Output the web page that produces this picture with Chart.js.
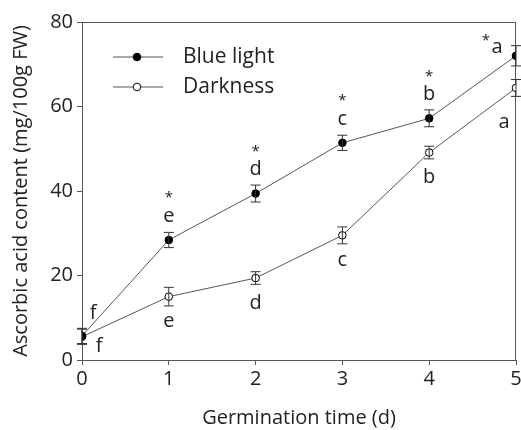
<!DOCTYPE html>
<html>
<head>
<meta charset="utf-8">
<script src="https://cdn.jsdelivr.net/npm/chart.js@4"></script>
<style>
  html, body { margin: 0; padding: 0; background: #fff; }
  #wrap { width: 521px; height: 430px; }
</style>
</head>
<body>
<div id="wrap"><canvas id="chart" width="521" height="430"></canvas></div>
<script>
// data
const days = [0, 1, 2, 3, 4, 5];
const blueLight = [5.7, 28.4, 39.4, 51.4, 57.2, 72.0];
const blueErr = [1.8, 1.8, 2.0, 1.8, 2.0, 2.4];
const darkness = [5.5, 15.0, 19.4, 29.5, 49.1, 64.4];
const darkErr = [1.8, 2.2, 1.5, 2.0, 1.5, 2.0];
const blueLetters = ['f', 'e', 'd', 'c', 'b', 'a'];
const darkLetters = ['f', 'e', 'd', 'c', 'b', 'a'];
const blueStars = ['', '*', '*', '*', '*', '*'];
const yTicks = [0, 20, 40, 60, 80];

const FONT = "'Open Sans', sans-serif";
const AXIS = '#555';

const errorBars = {
  id: 'errorBars',
  afterDatasetsDraw(chart) {
    const ctx = chart.ctx;
    const x = chart.scales.x, y = chart.scales.y;
    const errs = [blueErr, darkErr];
    ctx.save();
    ctx.strokeStyle = '#333';
    ctx.lineWidth = 1;
    chart.data.datasets.forEach((ds, i) => {
      ds.data.forEach((p, j) => {
        const px = x.getPixelForValue(p.x);
        const y1 = y.getPixelForValue(p.y + errs[i][j]);
        const y2 = y.getPixelForValue(p.y - errs[i][j]);
        ctx.beginPath();
        ctx.moveTo(px, y1); ctx.lineTo(px, y2);
        ctx.moveTo(px - 5, y1); ctx.lineTo(px + 5, y1);
        ctx.moveTo(px - 5, y2); ctx.lineTo(px + 5, y2);
        ctx.stroke();
      });
    });
    ctx.restore();
  }
};

const frameAndText = {
  id: 'frameAndText',
  beforeDatasetsDraw(chart) {
    const ctx = chart.ctx, a = chart.chartArea;
    ctx.save();
    ctx.strokeStyle = AXIS;
    ctx.lineWidth = 1;
    ctx.beginPath();
    ctx.moveTo(a.left, a.top + 0.5);
    ctx.lineTo(a.right - 0.5, a.top + 0.5);
    ctx.lineTo(a.right - 0.5, a.bottom);
    ctx.stroke();
    ctx.restore();
  },
  afterDraw(chart) {
    const ctx = chart.ctx;
    const x = chart.scales.x, y = chart.scales.y;
    ctx.save();
    ctx.fillStyle = '#222';
    ctx.textAlign = 'center';
    ctx.textBaseline = 'middle';
    days.forEach((d, j) => {
      const px = x.getPixelForValue(d);
      const pb = y.getPixelForValue(blueLight[j]);
      const pd = y.getPixelForValue(darkness[j]);
      ctx.font = '20px ' + FONT;
      if (j === 0) {
        ctx.fillText(blueLetters[j], px + 11, pb - 23);
        ctx.fillText(darkLetters[j], px + 17, pd + 10);
      } else if (j === days.length - 1) {
        ctx.fillText(blueLetters[j], px - 19, pb - 9);
        ctx.fillText(darkLetters[j], px - 12, pd + 34);
      } else {
        ctx.fillText(blueLetters[j], px, pb - 24);
        ctx.fillText(darkLetters[j], px, pd + 25);
      }
      if (blueStars[j]) {
        ctx.font = '15px ' + FONT;
        if (j === days.length - 1) ctx.fillText(blueStars[j], px - 30, pb - 15);
        else ctx.fillText(blueStars[j], px, pb - 42);
      }
    });

    // legend
    const items = chart.data.datasets;
    items.forEach((ds, i) => {
      const ly = 57 + i * 30;
      ctx.strokeStyle = AXIS;
      ctx.lineWidth = 1;
      ctx.beginPath();
      ctx.moveTo(113, ly); ctx.lineTo(163, ly);
      ctx.stroke();
      ctx.beginPath();
      ctx.arc(137, ly, 3.8, 0, Math.PI * 2);
      ctx.fillStyle = ds.pointBackgroundColor;
      ctx.fill();
      ctx.strokeStyle = '#000';
      ctx.stroke();
      ctx.fillStyle = '#222';
      ctx.textAlign = 'left';
      ctx.font = '21px ' + FONT;
      ctx.fillText(ds.label, 183, ly);
    });
    ctx.restore();
  }
};

new Chart(document.getElementById('chart'), {
  type: 'line',
  data: {
    datasets: [
      {
        label: 'Blue light',
        data: days.map((d, i) => ({ x: d, y: blueLight[i] })),
        borderColor: AXIS,
        borderWidth: 1,
        pointRadius: 3.8,
        pointBackgroundColor: '#000',
        pointBorderColor: '#000',
        pointBorderWidth: 1
      },
      {
        label: 'Darkness',
        data: days.map((d, i) => ({ x: d, y: darkness[i] })),
        borderColor: AXIS,
        borderWidth: 1,
        pointRadius: 3.8,
        pointBackgroundColor: '#fff',
        pointBorderColor: '#000',
        pointBorderWidth: 1
      }
    ]
  },
  options: {
    responsive: false,
    animation: false,
    layout: { padding: { top: 22, right: 3, left: 0, bottom: 0 } },
    plugins: { legend: { display: false }, tooltip: { enabled: false } },
    scales: {
      x: {
        type: 'linear',
        min: 0, max: 5,
        afterFit(s) { s.height = 70; s.paddingRight = 0; s.paddingLeft = 0; },
        border: { color: AXIS, width: 1 },
        grid: { drawOnChartArea: false, tickLength: 5, tickColor: AXIS },
        ticks: { stepSize: 1, color: '#222', font: { family: FONT, size: 20 }, padding: 2 },
        title: {
          display: true, text: 'Germination time (d)', color: '#222',
          font: { family: FONT, size: 20 }, padding: { top: 0, bottom: 0 }
        }
      },
      y: {
        min: 0, max: 80,
        afterFit(s) { s.width = 82; },
        afterBuildTicks(s) { s.ticks = yTicks.map(v => ({ value: v })); },
        border: { color: AXIS, width: 1 },
        grid: { drawOnChartArea: false, tickLength: 5, tickColor: AXIS },
        ticks: { color: '#222', font: { family: FONT, size: 20 }, padding: 4 },
        title: {
          display: true, text: 'Ascorbic acid content (mg/100g FW)', color: '#222',
          font: { family: FONT, size: 20 }, padding: { top: 9, bottom: 0 }
        }
      }
    }
  },
  plugins: [errorBars, frameAndText]
});
</script>
</body>
</html>
